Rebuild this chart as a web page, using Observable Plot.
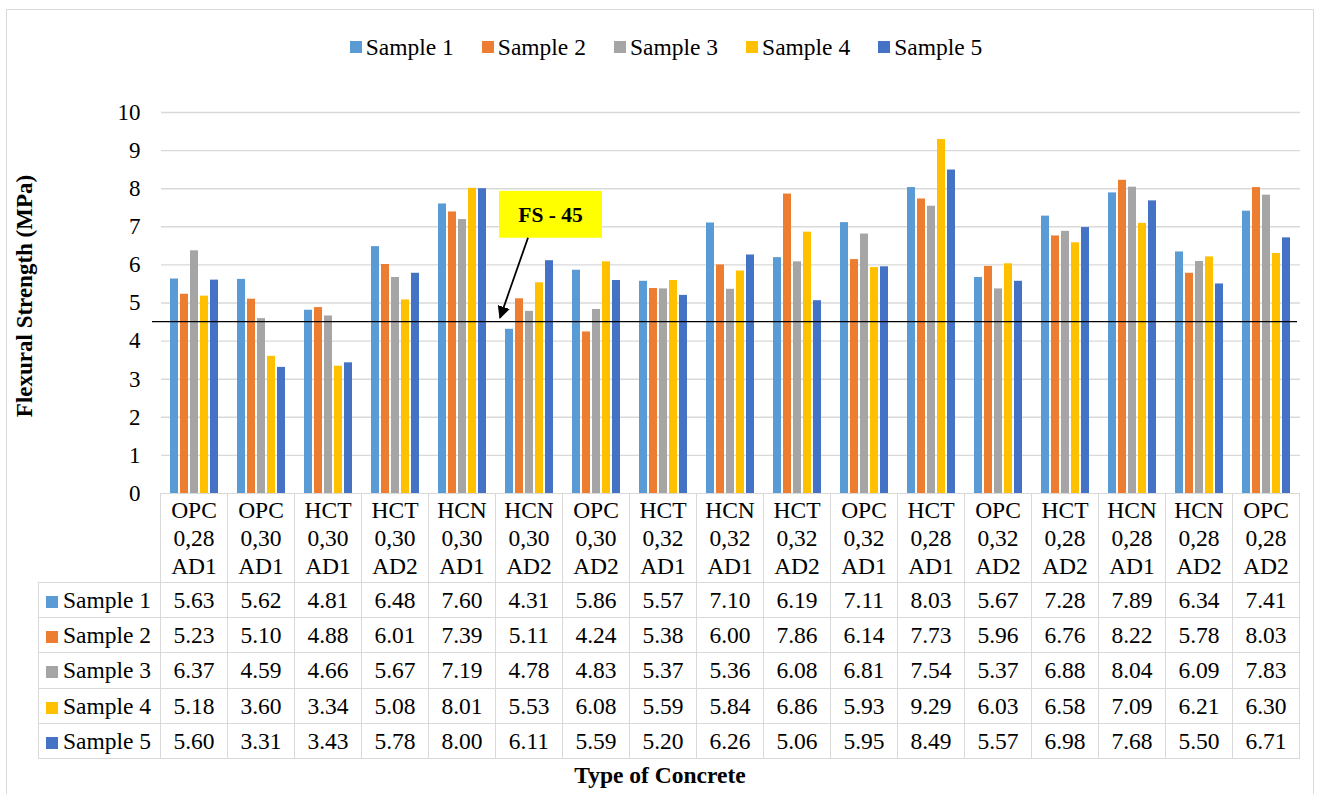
<!DOCTYPE html>
<html>
<head>
<meta charset="utf-8">
<script src="https://cdn.jsdelivr.net/npm/d3@7"></script>
<script src="https://cdn.jsdelivr.net/npm/@observablehq/plot@0.6"></script>
<style>
  html, body { margin: 0; padding: 0; background: #fff; }
  body { width: 1319px; height: 794px; position: relative; overflow: hidden;
         font-family: "Liberation Serif", "Times New Roman", serif; color: #000; }
  #frame { position: absolute; left: 6px; top: 9px; width: 1308px; height: 800px;
           border: 1.5px solid #d9d9d9; box-sizing: border-box; }
  #legend { position: absolute; top: 33px; left: 0; width: 1332px; display: flex;
            justify-content: center; gap: 28px; font-size: 23.5px; line-height: 28px; }
  #legend .item { display: flex; align-items: center; }
  .sw { display: inline-block; width: 12px; height: 12px; margin-right: 4px; }
  #chart { position: absolute; left: 0; top: 90px; }
  #ytitle { position: absolute; left: 25px; top: 296px; transform: translate(-50%, -50%) rotate(-90deg);
            font-weight: bold; font-size: 23px; white-space: nowrap; }
  #xtitle { position: absolute; top: 761px; left: 160px; width: 1000px; text-align: center;
            font-weight: bold; font-size: 23.5px; line-height: 28px; }
  #table { position: absolute; left: 38px; top: 493px; border-collapse: collapse; table-layout: fixed;
           font-size: 23.5px; }
  #table td { border: 1.5px solid #d9d9d9; padding: 0; text-align: center; }
  #table td.blank { border: none; }
  #table tr.head td { height: 88px; line-height: 28px; vertical-align: middle; }
  #table tr.row td { height: 34.2px; line-height: 34px; }
  #table td.name { text-align: left; padding-left: 7px; white-space: nowrap; }
  #table td.name .sw { margin-right: 5px; }
</style>
</head>
<body>
<div id="frame"></div>
<div id="legend"></div>
<div id="chart"></div>
<div id="ytitle">Flexural Strength (MPa)</div>
<table id="table"></table>
<div id="xtitle">Type of Concrete</div>
<script>
// Concrete mixes (binder, w/b ratio, admixture)
const categories = [
  "OPC 0,28 AD1", "OPC 0,30 AD1", "HCT 0,30 AD1", "HCT 0,30 AD2", "HCN 0,30 AD1",
  "HCN 0,30 AD2", "OPC 0,30 AD2", "HCT 0,32 AD1", "HCN 0,32 AD1", "HCT 0,32 AD2",
  "OPC 0,32 AD1", "HCT 0,28 AD1", "OPC 0,32 AD2", "HCT 0,28 AD2", "HCN 0,28 AD1",
  "HCN 0,28 AD2", "OPC 0,28 AD2"
];
const seriesNames = ["Sample 1", "Sample 2", "Sample 3", "Sample 4", "Sample 5"];
const seriesColors = ["#5B9BD5", "#ED7D31", "#A5A5A5", "#FFC000", "#4472C4"];

// Flexural strength, MPa
const sample1 = [5.63, 5.62, 4.81, 6.48, 7.60, 4.31, 5.86, 5.57, 7.10, 6.19, 7.11, 8.03, 5.67, 7.28, 7.89, 6.34, 7.41];
const sample2 = [5.23, 5.10, 4.88, 6.01, 7.39, 5.11, 4.24, 5.38, 6.00, 7.86, 6.14, 7.73, 5.96, 6.76, 8.22, 5.78, 8.03];
const sample3 = [6.37, 4.59, 4.66, 5.67, 7.19, 4.78, 4.83, 5.37, 5.36, 6.08, 6.81, 7.54, 5.37, 6.88, 8.04, 6.09, 7.83];
const sample4 = [5.18, 3.60, 3.34, 5.08, 8.01, 5.53, 6.08, 5.59, 5.84, 6.86, 5.93, 9.29, 6.03, 6.58, 7.09, 6.21, 6.30];
const sample5 = [5.60, 3.31, 3.43, 5.78, 8.00, 6.11, 5.59, 5.20, 6.26, 5.06, 5.95, 8.49, 5.57, 6.98, 7.68, 5.50, 6.71];
const series = [sample1, sample2, sample3, sample4, sample5];

const yTicks = [0, 1, 2, 3, 4, 5, 6, 7, 8, 9, 10];

// Reference strength line and its label
const threshold = 4.5;
const thresholdLabel = "FS - 45";
const labelCategory = "HCN 0,30 AD2";

const rows = categories.flatMap((c, i) =>
  series.map((s, j) => ({category: c, sample: seriesNames[j], value: s[i]}))
);

const chart = Plot.plot({
  width: 1319,
  height: 404,
  marginTop: 22,
  marginBottom: 1,
  marginLeft: 160,
  marginRight: 19,
  style: {fontFamily: '"Liberation Serif", "Times New Roman", serif', fontSize: "23px", color: "#000", background: "transparent", overflow: "visible"},
  fx: {domain: categories, padding: 0, axis: null},
  x: {domain: seriesNames, paddingInner: 0.17, paddingOuter: 0.87, axis: null},
  y: {domain: [0, 10], ticks: yTicks, tickSize: 0, tickPadding: 21, label: null},
  color: {domain: seriesNames, range: seriesColors},
  marks: [
    Plot.ruleY(yTicks.filter(d => d > 0), {stroke: "#d9d9d9", strokeWidth: 1.4}),
    Plot.barY(rows, {fx: "category", x: "sample", y: "value", fill: "sample"})
  ]
});
document.getElementById("chart").appendChild(chart);

// Threshold line and callout, positioned through the plot's scales
const fx = chart.scale("fx");
const ys = chart.scale("y");
const bw = fx.bandwidth;
const svg = d3.select(chart);
const g = svg.append("g");
const yLine = ys.apply(threshold);
g.append("line")
  .attr("x1", fx.apply(categories[0]) - 9)
  .attr("x2", fx.apply(categories[categories.length - 1]) + bw - 3)
  .attr("y1", yLine).attr("y2", yLine)
  .attr("stroke", "#000").attr("stroke-width", 1.3);

const cx = fx.apply(labelCategory);
const boxTop = ys.apply(7.93), boxBottom = ys.apply(6.70);
g.append("rect")
  .attr("x", cx + 3).attr("y", boxTop)
  .attr("width", 103).attr("height", boxBottom - boxTop)
  .attr("fill", "#FFFF00");
g.append("text")
  .attr("x", cx + 3 + 51.5).attr("y", (boxTop + boxBottom) / 2)
  .attr("text-anchor", "middle").attr("dy", "0.35em")
  .attr("font-weight", "bold").attr("font-size", 21.5)
  .text(thresholdLabel);

svg.append("defs").append("marker")
  .attr("id", "arrowhead").attr("viewBox", "0 0 10 10")
  .attr("refX", 9).attr("refY", 5)
  .attr("markerWidth", 7).attr("markerHeight", 7)
  .attr("orient", "auto")
  .append("path").attr("d", "M0,0 L10,5 L0,10 z").attr("fill", "#000");
g.append("line")
  .attr("x1", cx + 32).attr("y1", boxBottom)
  .attr("x2", cx + 4).attr("y2", ys.apply(4.6))
  .attr("stroke", "#000").attr("stroke-width", 1.8)
  .attr("marker-end", "url(#arrowhead)");

// Legend
const legend = d3.select("#legend");
seriesNames.forEach((n, j) => {
  const it = legend.append("div").attr("class", "item");
  it.append("span").attr("class", "sw").style("background", seriesColors[j]);
  it.append("span").text(n);
});

// Data table under the chart
const table = d3.select("#table");
const colgroup = table.append("colgroup");
colgroup.append("col").style("width", "122px");
categories.forEach(() => colgroup.append("col").style("width", "67px"));
const head = table.append("tr").attr("class", "head");
head.append("td").attr("class", "blank");
categories.forEach(c => {
  const parts = c.split(" ");
  head.append("td").html(parts.join("<br>"));
});
seriesNames.forEach((n, j) => {
  const tr = table.append("tr").attr("class", "row");
  const name = tr.append("td").attr("class", "name");
  name.append("span").attr("class", "sw").style("background", seriesColors[j]);
  name.append("span").text(n);
  series[j].forEach(v => tr.append("td").text(v.toFixed(2)));
});
</script>
</body>
</html>
